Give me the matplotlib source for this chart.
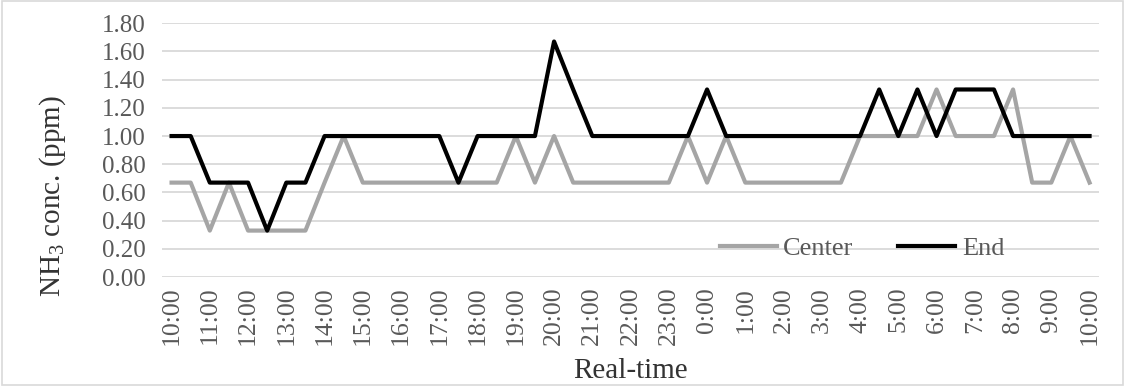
#!/usr/bin/env python3
# -*- coding: utf-8 -*-

import matplotlib
matplotlib.use('Agg')
import matplotlib.pyplot as plt
from matplotlib.patches import Rectangle

# half-hour readings, 10:00 to 10:00 next day
times = ['10:00', '10:30', '11:00', '11:30', '12:00', '12:30', '13:00', '13:30',
         '14:00', '14:30', '15:00', '15:30', '16:00', '16:30', '17:00', '17:30',
         '18:00', '18:30', '19:00', '19:30', '20:00', '20:30', '21:00', '21:30',
         '22:00', '22:30', '23:00', '23:30', '0:00', '0:30', '1:00', '1:30',
         '2:00', '2:30', '3:00', '3:30', '4:00', '4:30', '5:00', '5:30',
         '6:00', '6:30', '7:00', '7:30', '8:00', '8:30', '9:00', '9:30', '10:00']

center = [0.67, 0.67, 0.33, 0.67, 0.33, 0.33, 0.33, 0.33,
          0.67, 1.00, 0.67, 0.67, 0.67, 0.67, 0.67, 0.67,
          0.67, 0.67, 1.00, 0.67, 1.00, 0.67, 0.67, 0.67,
          0.67, 0.67, 0.67, 1.00, 0.67, 1.00, 0.67, 0.67,
          0.67, 0.67, 0.67, 0.67, 1.00, 1.00, 1.00, 1.00,
          1.33, 1.00, 1.00, 1.00, 1.33, 0.67, 0.67, 1.00, 0.67]

end = [1.00, 1.00, 0.67, 0.67, 0.67, 0.33, 0.67, 0.67,
       1.00, 1.00, 1.00, 1.00, 1.00, 1.00, 1.00, 0.67,
       1.00, 1.00, 1.00, 1.00, 1.67, 1.33, 1.00, 1.00,
       1.00, 1.00, 1.00, 1.00, 1.33, 1.00, 1.00, 1.00,
       1.00, 1.00, 1.00, 1.00, 1.00, 1.33, 1.00, 1.33,
       1.00, 1.33, 1.33, 1.33, 1.00, 1.00, 1.00, 1.00, 1.00]

yticks = [0.0, 0.2, 0.4, 0.6, 0.8, 1.0, 1.2, 1.4, 1.6, 1.8]


def main():
    plt.rcParams['font.family'] = ['Liberation Serif', 'DejaVu Serif']
    plt.rcParams['mathtext.fontset'] = 'custom'
    plt.rcParams['mathtext.rm'] = 'Liberation Serif'
    txt = '#595959'

    fig = plt.figure(figsize=(11.25, 3.86), dpi=100)
    fig.patches.append(Rectangle((0.002, 0.003), 0.996, 0.994, transform=fig.transFigure,
                                 fill=False, edgecolor='#d9d9d9', linewidth=1.2))
    ax = fig.add_axes([0.144, 0.282, 0.833, 0.658])

    xs = list(range(len(times)))
    ax.plot(xs, center, color='#a5a5a5', linewidth=3, label='Center', zorder=3)
    ax.plot(xs, end, color='black', linewidth=3, label='End', zorder=4)

    ax.set_xlim(-0.5, len(times) - 0.5)
    ax.set_ylim(0, 1.8)
    ax.set_yticks(yticks)
    ax.set_yticklabels(['%.2f' % v for v in yticks], fontsize=18, color=txt)
    ax.set_xticks(xs[::2])
    ax.set_xticklabels(times[::2], rotation=90, fontsize=18.5, color=txt)
    ax.tick_params(length=0, pad=12)
    ax.tick_params(axis='x', pad=7)
    ax.grid(axis='y', color='#d9d9d9', linewidth=1.3)
    ax.set_axisbelow(True)
    for s in ax.spines.values():
        s.set_visible(False)

    ax.set_ylabel(r'NH$_\mathrm{3}$ conc. (ppm)', fontsize=21, color='#333333')
    ax.yaxis.set_label_coords(-0.100, 0.32)
    ax.set_xlabel('Real-time', fontsize=21, color='#333333')
    ax.xaxis.set_label_coords(0.5, -0.32)

    ax.legend(loc='center', bbox_to_anchor=(0.747, 0.114), ncol=2, frameon=False,
              fontsize=19, handlelength=2.15, columnspacing=1.7, handletextpad=0.25,
              labelcolor=txt)

    fig.savefig('out.png', dpi=100)


if __name__ == "__main__":
    main()
